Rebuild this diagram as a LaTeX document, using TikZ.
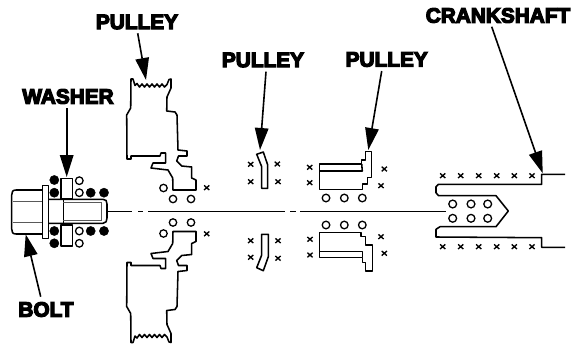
\documentclass[tikz,border=0pt]{standalone}
\usepackage{fontspec}
\usetikzlibrary{arrows.meta}
\newfontfamily\labf[BoldFeatures={FakeBold=6}]{Liberation Sans}
\tikzset{
  part/.style={draw=black,line width=1.55pt,line join=round,fill=none},
  thin part/.style={draw=black!65,line width=0.8pt},
  centerline/.style={draw=black,line width=0.9pt},
  ringball/.style={draw=black,line width=1.3pt,fill=white},
  solidball/.style={draw=black,fill=black,line width=0.4pt},
  xmark/.style={draw=black,line width=1.35pt},
  lab/.style={font=\labf\bfseries\fontsize{20.8}{20.8}\selectfont,inner sep=0pt,text=black,anchor=center},
  pointer/.style={draw=black,line width=1.6pt,-{Stealth[length=22pt,width=13.5pt,inset=0pt]}}
}
\newcommand{\xm}[2]{\draw[xmark] (#1-2.6,#2-2.3) -- (#1+2.6,#2+2.3) (#1-2.6,#2+2.3) -- (#1+2.6,#2-2.3);}
\newcommand{\drawpulleyA}{%
  \draw[part] (131,79) -- (133,79) -- (135,85.5) -- (137,83.5) -- (139.5,87) -- (142,84) -- (144.5,87) -- (147,84) -- (149.5,87) -- (152,84) -- (154.5,87) -- (157,84) -- (159.5,87) -- (162,84) -- (164.5,87) -- (167,84.5) -- (169,79.5) -- (171,79) -- (171,88) -- (167,97) -- (166.7,111) -- (175,112) -- (177,115) -- (178,150) -- (187,151) -- (187,156) -- (178.5,156) -- (176.7,161) -- (181.7,166) -- (191.7,167) -- (191.7,178) -- (196,180) -- (196,190) -- (173,190) -- (172.7,178) -- (168,170) -- (151,168) -- (153,163) -- (165.7,163) -- (165.7,153) -- (161,153) -- (160,156) -- (131,156) -- (131,159) -- (127,159) -- (126.7,115) -- (130.7,108) -- cycle;
  \draw[ringball] (163.5,188) circle (3.7);
  \draw[ringball] (173,199) circle (3.7);
  \draw[ringball] (191,199) circle (3.7);
  \xm{206.7}{187.7}
}
\begin{document}
\begin{tikzpicture}[x=1pt,y=-1pt]
\useasboundingbox (0,0) rectangle (575,345);
\fill[white] (0,0) rectangle (575,345);

% centre line
\draw[centerline] (108,211) -- (132,211) (138,211) -- (143,211) (148,211) -- (285,211) (290,211) -- (296,211) (300,211) -- (446,211);

% bolt
\draw[part] (42.7,190) -- (16,190) .. controls (12.5,190) and (11.7,192) .. (11.7,195) -- (11.7,229) .. controls (11.7,232) and (12.5,234) .. (16,234) -- (42.7,234);
\draw[thin part] (12.5,201.7) -- (42.7,201.7) (12.5,222.3) -- (42.7,222.3);
\draw[part] (42.7,185.7) rectangle (48.3,238.3);
\draw[part] (48.3,199.3) -- (103,199.3) .. controls (106,199.3) and (107,201) .. (107,204) -- (107,218) .. controls (107,221) and (106,223.3) .. (103,223.3) -- (48.3,223.3);
\draw[part] (63.3,199.3) -- (63.3,223.3);
\draw[thin part] (63.3,202) -- (101.5,202) -- (101.5,220.7) -- (63.3,220.7);

% washer
\draw[part,fill=white] (61,178.3) rectangle (72.7,198.8);
\draw[part,fill=white] (61,225) rectangle (72.7,246);
\foreach \p in {(54.3,180),(54.3,192.7),(90.7,192.7),(104,192.7),(54.3,231),(54.3,243.3),(90.7,231),(104,231)}
  \fill[solidball] \p circle (4.6);
\foreach \p in {(79.3,180.7),(79.3,192.7),(79.3,231),(79.3,243.3)}
  \draw[ringball] \p circle (3.8);

% first pulley
\drawpulleyA
\begin{scope}[yshift=-421.5pt,yscale=-1]
\drawpulleyA
\end{scope}

% second pulley
\draw[part] (256.7,154.3) -- (263.3,152) -- (267.7,165) -- (267.7,188.3) -- (261.7,188.3) -- (261.7,166.7) -- cycle;
\draw[part] (261.7,234.3) -- (268.3,234.3) -- (268.3,256.7) -- (263.3,270.7) -- (256.7,267.7) -- (261.7,255) -- cycle;
\xm{250.7}{164.3}\xm{250.7}{181.7}\xm{277.3}{164}\xm{278}{181.7}
\xm{250.7}{240.7}\xm{250.7}{257.3}\xm{278}{240.7}\xm{278}{258.3}

% third pulley
\draw[part] (319.3,164) -- (361.7,164) -- (361.7,160) -- (365.3,160) -- (365.3,151.7) -- (371.7,151.7) -- (371.7,177.3) -- (367.7,177.3) -- (367.7,184) -- (362.3,184) -- (362.3,189.3) -- (319.3,189.3) -- cycle;
\draw[part] (319.3,171) -- (362.3,171) -- (361.7,164);
\draw[part] (319.3,232.7) -- (361,232.7) -- (361,236.7) -- (365.3,236.7) -- (365.3,245) -- (372.7,245) -- (372.7,271) -- (365.3,271) -- (365.3,262.7) -- (362.7,262.7) -- (362.7,257.3) -- (319.3,257.3) -- cycle;
\draw[part] (319.3,251.7) -- (362.7,251.7) -- (362.7,257.3);
\foreach \p in {(326,198),(344.3,198),(362.3,198),(326,225),(344.3,225),(362.3,225)}
  \draw[ringball] \p circle (3.8);
\xm{309.7}{167.3}\xm{309.7}{182.7}\xm{384.3}{169}\xm{381}{185.7}
\xm{310}{239.3}\xm{310}{255}\xm{381}{236.7}\xm{384.3}{253.3}

% crankshaft
\draw[part] (565,174.3) -- (541.7,174.3) -- (541.7,184.3) -- (438.5,184.3) -- (436,186.7) -- (436,192.7) -- (438.5,195.7) -- (496,195.7) -- (508.3,211) -- (496,226.7) -- (440,226.7) -- (436,229.3) -- (436,237) -- (541.7,237.7) -- (541.7,247.3) -- (565,247.3);
\foreach \p in {(452.7,204),(471,204),(487.7,204),(452.7,218.3),(471,218.3),(487.7,218.3)}
  \draw[ringball] \p circle (3.9);
\foreach \cx in {442.7,460.7,478.7,496.7,514.3,532}{\xm{\cx}{175.7}\xm{\cx}{246.7}}

% labels
\node[lab] (pulleyone) at (137,22) {PULLEY};
\node[lab] (washer) at (68,96.5) {WASHER};
\node[lab] (bolt) at (46,309.5) {BOLT};
\node[lab] (pulleytwo) at (263,60) {PULLEY};
\node[lab] (pulleythree) at (386.7,59.5) {PULLEY};
\node[lab] (crank) at (498,15.5) {CRANKSHAFT};

% pointer ends
\coordinate (tipone) at (146,80);
\coordinate (tailone) at (137.7,33.3);
\coordinate (tipwasher) at (66.7,177);
\coordinate (tailwasher) at (66.7,108);
\coordinate (tipbolt) at (25.7,234.3);
\coordinate (tailbolt) at (40.7,296.7);
\coordinate (tiptwo) at (260,150);
\coordinate (tailtwo) at (266,71.7);
\coordinate (tipthree) at (368.3,150);
\coordinate (tailthree) at (381.7,71);
\coordinate (tipcrank) at (542.7,173.3);
\coordinate (tailcrank) at (491.7,26.7);

\draw[pointer] (tailone) -- (tipone);
\draw[pointer] (tailwasher) -- (tipwasher);
\draw[pointer] (tailbolt) -- (tipbolt);
\draw[pointer] (tailtwo) -- (tiptwo);
\draw[pointer] (tailthree) -- (tipthree);
\draw[pointer] (tailcrank) -- (tipcrank);
\end{tikzpicture}
\end{document}
